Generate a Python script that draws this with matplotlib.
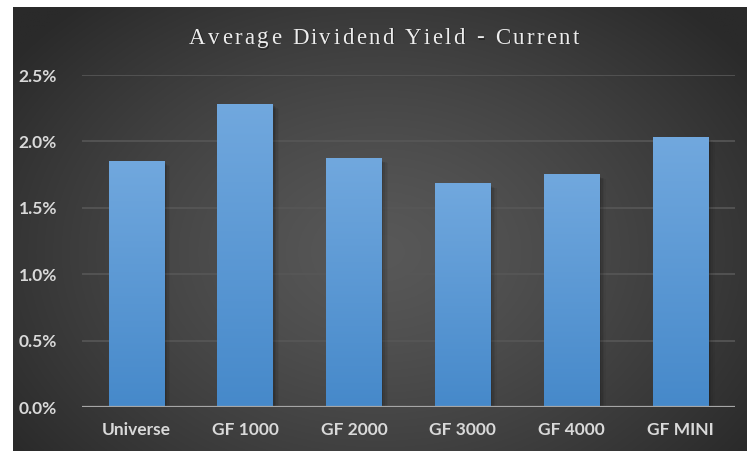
import numpy as np
import matplotlib
matplotlib.use("Agg")
import matplotlib.pyplot as plt
from matplotlib.patches import Rectangle
from matplotlib.ticker import FuncFormatter

categories = ["Universe", "GF 1000", "GF 2000", "GF 3000", "GF 4000", "GF MINI"]
values = [1.85, 2.28, 1.87, 1.68, 1.75, 2.03]
yticks = [0.0, 0.5, 1.0, 1.5, 2.0, 2.5]
title = "Average Dividend Yield - Current"

W, H = 747, 451
fig = plt.figure(figsize=(W / 100, H / 100), dpi=100)
fig.patch.set_facecolor("white")

# panel background with radial gradient
px0, py0 = 13 / W, 0.0
pw, ph = 1 - px0, 1 - 7 / H
bg = fig.add_axes([px0, py0, pw, ph])
bg.set_axis_off()
ny, nx = 300, 500
yy, xx = np.mgrid[0:ny, 0:nx]
cx, cy = nx * 0.5, ny * 0.55
r = np.sqrt(((xx - cx) / (nx * 0.62)) ** 2 + ((yy - cy) / (ny * 0.75)) ** 2)
r = np.clip(r, 0, 1)
c_in, c_out = 0x58, 0x2a
val = (c_in + (c_out - c_in) * r ** 1.3) / 255.0
img = np.dstack([val, val, val])
bg.imshow(img, extent=[0, 1, 0, 1], aspect="auto", origin="upper")
bg.set_xlim(0, 1)
bg.set_ylim(0, 1)

ax = fig.add_axes([82 / W, 1 - 407 / H, (735 - 82) / W, (407 - 75) / H])
ax.patch.set_alpha(0)
ax.set_xlim(-0.5, len(categories) - 0.5)
ax.set_ylim(0, 2.5)
for s in ax.spines.values():
    s.set_visible(False)
ax.set_yticks(yticks)
ax.yaxis.set_major_formatter(FuncFormatter(lambda v, p: f"{v:.1f}%"))
for yv in yticks[1:]:
    ax.axhline(yv, color="#575757", lw=1.2, zorder=1)
ax.axhline(0, color="#a6a6a6", lw=1.6, zorder=5)

bars = ax.bar(range(len(categories)), values, width=0.51, color="none", zorder=3)
grad = np.linspace(0, 1, 256).reshape(-1, 1)
top = np.array([0x71, 0xa8, 0xde]) / 255
bot = np.array([0x46, 0x89, 0xca]) / 255
gimg = (top[None, None, :] * (1 - grad[..., None]) + bot[None, None, :] * grad[..., None])
for b in bars:
    x, w, h = b.get_x(), b.get_width(), b.get_height()
    # soft shadow
    for k, a in enumerate([0.10, 0.08, 0.06, 0.04]):
        dx = 0.012 * (k + 1)
        ax.add_patch(Rectangle((x + dx * 0.6, -0.01), w + dx * 0.6, h - 0.006 * (k + 1),
                               facecolor="black", alpha=a, lw=0, zorder=2))
    im = ax.imshow(gimg, extent=[x, x + w, 0, h], aspect="auto", zorder=3, origin="upper")
ax.set_aspect("auto")
ax.set_xlim(-0.5, len(categories) - 0.5)
ax.set_ylim(0, 2.5)

ax.set_xticks(range(len(categories)))
ax.set_xticklabels(categories)
ax.tick_params(axis="both", length=0, colors="#d9d9d9")
ax.tick_params(axis="x", pad=11)
ax.tick_params(axis="y", pad=18)
for lab in ax.get_xticklabels() + ax.get_yticklabels():
    lab.set_fontfamily("Lato")
    lab.set_fontweight("bold")
    lab.set_fontsize(12.5)
    lab.set_color("#d9d9d9")

# letter-spaced title
fig.canvas.draw()
renderer = fig.canvas.get_renderer()
fs = 16.5
spacing = 2.4  # px
widths = []
for ch in title:
    t = fig.text(0, 0, ch if ch != " " else "n", fontsize=fs, family="Liberation Serif")
    bb = t.get_window_extent(renderer)
    w = bb.width if ch != " " else bb.width * 0.55
    widths.append(w)
    t.remove()
total = sum(widths) + spacing * (len(title) - 1)
xc = 384
x = xc - total / 2
ty = H - 38
for ch, w in zip(title, widths):
    if ch != " ":
        fig.text((x + 1) / W, (ty - 1) / H, ch, fontsize=fs, family="Liberation Serif",
                 color="black", alpha=0.35, va="center", ha="left")
        fig.text(x / W, ty / H, ch, fontsize=fs, family="Liberation Serif",
                 color="#ececec", va="center", ha="left")
    x += w + spacing

fig.savefig("out.png", dpi=100, facecolor=fig.get_facecolor())
